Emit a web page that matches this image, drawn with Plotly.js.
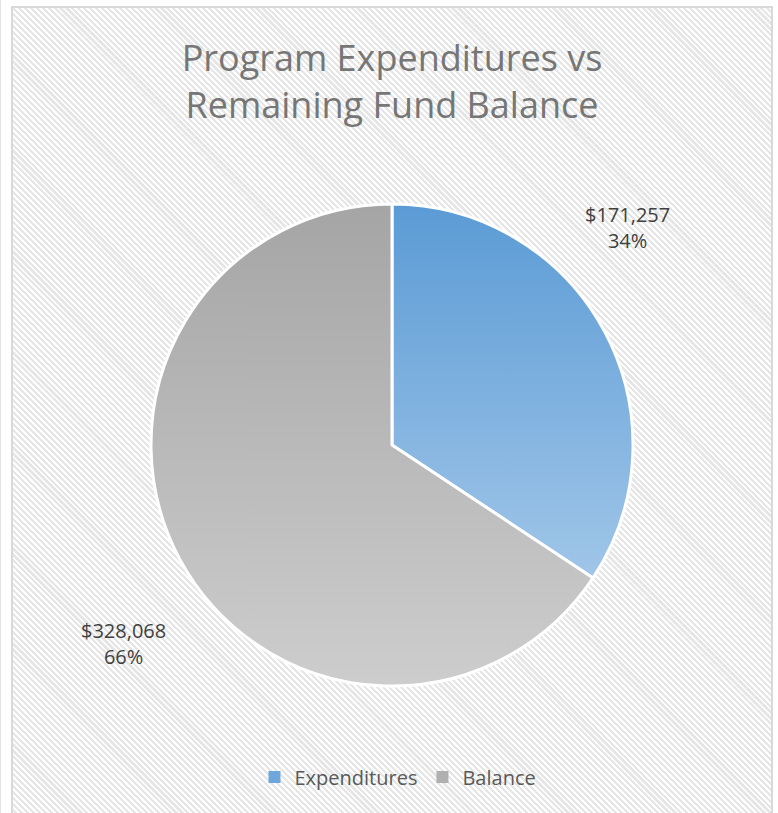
<!DOCTYPE html>
<html>
<head>
<meta charset="utf-8">
<script src="https://cdn.plot.ly/plotly-3.0.1.min.js"></script>
<style>
  html, body { margin: 0; padding: 0; background: #ffffff; width: 778px; height: 813px; overflow: hidden; }
  #edge { position: absolute; left: 0; top: 0; width: 1px; height: 813px; background: #e4e4e4; }
  #frame {
    position: absolute; left: 11px; top: 6px; width: 758px; height: 830px;
    border: 2px solid #d9d9d9;
    background: repeating-linear-gradient(45deg, #ffffff 0px, #ffffff 2px, #e6e6e6 2px, #e6e6e6 4.2px);
  }
  #chart { position: absolute; left: 0; top: 0; width: 778px; height: 813px; }
</style>
</head>
<body>
<div id="edge"></div>
<div id="frame"></div>
<div id="chart"></div>
<script>
const categories = ["Expenditures", "Balance"];
const values = [171257, 328068];
const valueLabels = ["$171,257", "$328,068"];
const percentLabels = ["34%", "66%"];
const titleText = "Program Expenditures vs<br>Remaining Fund Balance";

const W = 778, H = 813;
const cx = 392, cy = 445, r = 241;

const trace = {
  type: "pie",
  labels: categories,
  values: values,
  sort: false,
  direction: "clockwise",
  rotation: 0,
  textinfo: "none",
  hoverinfo: "label+value+percent",
  marker: { colors: ["#7aaddd", "#b8b8b8"], line: { color: "#ffffff", width: 3 } },
  domain: { x: [(cx - r) / W, (cx + r) / W], y: [(H - cy - r) / H, (H - cy + r) / H] }
};

const labelPos = [ { x: 627, y: 227 }, { x: 123, y: 643 } ];
const annotations = categories.map((c, i) => ({
  text: valueLabels[i] + "<br>" + percentLabels[i],
  x: labelPos[i].x / W, y: 1 - labelPos[i].y / H,
  xref: "paper", yref: "paper", showarrow: false,
  xanchor: "center", yanchor: "middle", align: "center",
  font: { family: "Open Sans, sans-serif", size: 20, color: "#404040" }
}));

const layout = {
  width: W, height: H,
  margin: { l: 0, r: 0, t: 0, b: 0 },
  paper_bgcolor: "rgba(0,0,0,0)",
  plot_bgcolor: "rgba(0,0,0,0)",
  title: {
    text: titleText,
    x: 392 / W, xanchor: "center",
    y: 1 - 71 / H, yanchor: "middle",
    font: { family: "Open Sans, sans-serif", size: 36, color: "#767676" }
  },
  showlegend: true,
  legend: {
    orientation: "h", x: 398 / W, xanchor: "center", y: 1 - 777 / H, yanchor: "middle",
    font: { family: "Open Sans, sans-serif", size: 20, color: "#595959" },
    bgcolor: "rgba(0,0,0,0)", itemwidth: 30, traceorder: "normal"
  },
  annotations: annotations
};

Plotly.newPlot("chart", [trace], layout, { displayModeBar: false, staticPlot: true }).then(gd => {
  const svg = gd.querySelector("svg.main-svg");
  const ns = "http://www.w3.org/2000/svg";
  let defs = svg.querySelector("defs");
  if (!defs) { defs = document.createElementNS(ns, "defs"); svg.insertBefore(defs, svg.firstChild); }
  function grad(id, c1, c2) {
    const g = document.createElementNS(ns, "linearGradient");
    g.setAttribute("id", id);
    g.setAttribute("gradientUnits", "userSpaceOnUse");
    g.setAttribute("x1", 0); g.setAttribute("y1", cy - r);
    g.setAttribute("x2", 0); g.setAttribute("y2", cy + r);
    [[0, c1], [1, c2]].forEach(([o, c]) => {
      const s = document.createElementNS(ns, "stop");
      s.setAttribute("offset", o); s.setAttribute("stop-color", c);
      g.appendChild(s);
    });
    defs.appendChild(g);
  }
  grad("gBlue", "#5b9bd5", "#b4d2ee");
  grad("gGray", "#a5a5a5", "#cdcdcd");
  const slices = gd.querySelectorAll("g.slice path.surface");
  const ids = ["gBlue", "gGray"];
  slices.forEach((p, i) => { p.style.fill = "url(#" + ids[i] + ")"; });
  const leg = gd.querySelectorAll("g.legend g.traces path.legendpie");
  leg.forEach((p, i) => { p.style.fill = ["#6fa6db", "#b0b0b0"][i]; p.style.stroke = "none"; });
});
</script>
</body>
</html>
